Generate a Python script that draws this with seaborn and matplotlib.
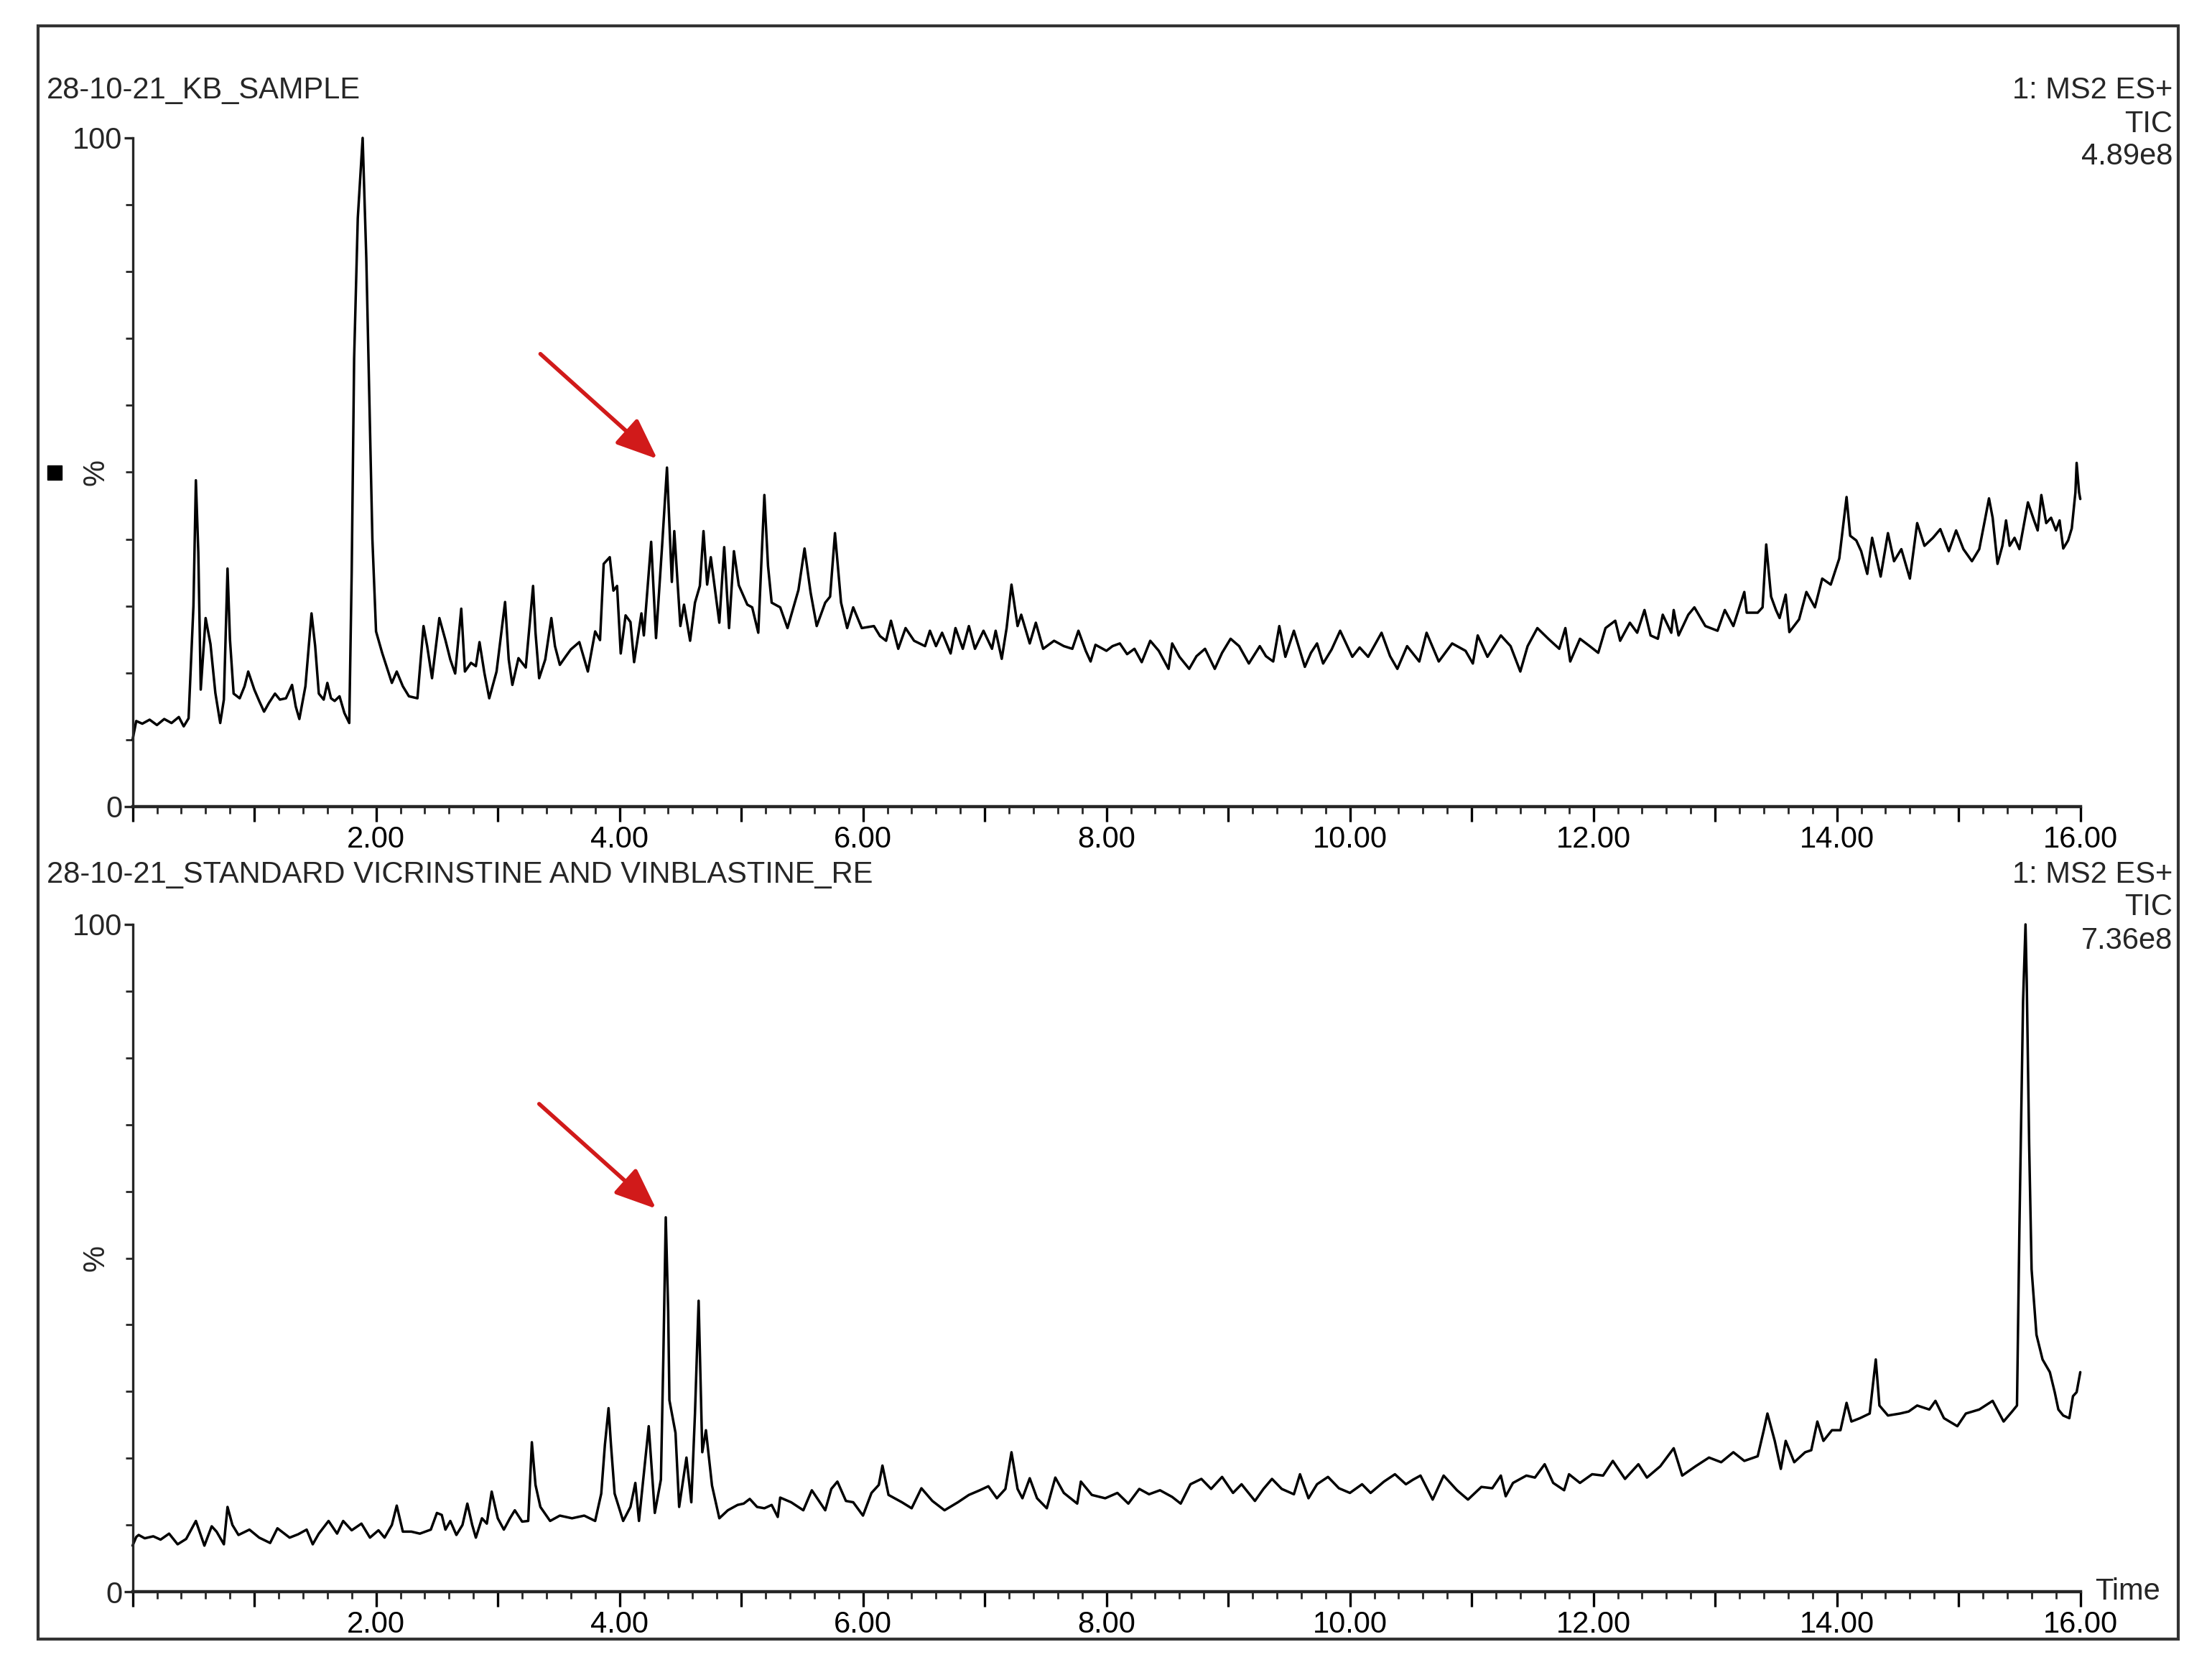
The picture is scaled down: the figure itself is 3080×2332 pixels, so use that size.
import numpy as np
import pandas as pd
import matplotlib
matplotlib.use("Agg")
import matplotlib.pyplot as plt
from matplotlib.ticker import MultipleLocator, FixedLocator, FuncFormatter
from matplotlib.patches import Rectangle
import seaborn as sns

# TIC traces (time in min, relative intensity in %)
sample_time = [
    0.00, 0.03, 0.08, 0.14, 0.20, 0.26, 0.32, 0.38, 0.42, 0.46,
    0.50, 0.52, 0.54, 0.56, 0.60, 0.64, 0.68, 0.72, 0.75, 0.78,
    0.80, 0.83, 0.88, 0.92, 0.95, 1.00, 1.04, 1.08, 1.12, 1.17,
    1.21, 1.26, 1.31, 1.34, 1.37, 1.42, 1.47, 1.50, 1.53, 1.57,
    1.60, 1.63, 1.66, 1.70, 1.74, 1.78, 1.80, 1.82, 1.85, 1.89,
    1.92, 1.95, 1.97, 2.00, 2.05, 2.10, 2.13, 2.17, 2.22, 2.27,
    2.34, 2.39, 2.42, 2.46, 2.52, 2.57, 2.61, 2.65, 2.70, 2.73,
    2.78, 2.82, 2.85, 2.89, 2.93, 2.99, 3.06, 3.09, 3.12, 3.17,
    3.23, 3.29, 3.31, 3.34, 3.39, 3.44, 3.47, 3.51, 3.56, 3.60,
    3.67, 3.74, 3.80, 3.84, 3.87, 3.92, 3.95, 3.98, 4.01, 4.05,
    4.09, 4.12, 4.18, 4.20, 4.26, 4.30, 4.35, 4.39, 4.43, 4.45,
    4.50, 4.53, 4.58, 4.62, 4.66, 4.69, 4.72, 4.75, 4.82, 4.86,
    4.90, 4.94, 4.98, 5.05, 5.09, 5.14, 5.19, 5.22, 5.25, 5.32,
    5.38, 5.47, 5.52, 5.57, 5.62, 5.69, 5.73, 5.77, 5.82, 5.87,
    5.92, 5.99, 6.09, 6.14, 6.19, 6.23, 6.29, 6.35, 6.42, 6.51,
    6.55, 6.60, 6.65, 6.72, 6.76, 6.82, 6.87, 6.92, 6.99, 7.06,
    7.09, 7.14, 7.18, 7.22, 7.27, 7.30, 7.37, 7.42, 7.48, 7.57,
    7.65, 7.72, 7.77, 7.83, 7.87, 7.91, 8.00, 8.05, 8.11, 8.17,
    8.23, 8.29, 8.36, 8.43, 8.51, 8.54, 8.60, 8.68, 8.74, 8.81,
    8.89, 8.95, 9.02, 9.09, 9.17, 9.26, 9.31, 9.37, 9.42, 9.47,
    9.54, 9.63, 9.68, 9.73, 9.78, 9.85, 9.92, 10.02, 10.08, 10.15,
    10.26, 10.33, 10.39, 10.47, 10.57, 10.63, 10.73, 10.84, 10.95, 11.01,
    11.05, 11.13, 11.24, 11.32, 11.40, 11.46, 11.54, 11.63, 11.72, 11.77,
    11.81, 11.89, 11.97, 12.04, 12.10, 12.18, 12.22, 12.30, 12.36, 12.42,
    12.47, 12.53, 12.57, 12.64, 12.66, 12.70, 12.78, 12.83, 12.92, 13.02,
    13.08, 13.15, 13.24, 13.26, 13.35, 13.39, 13.42, 13.46, 13.50, 13.53,
    13.58, 13.61, 13.69, 13.75, 13.82, 13.88, 13.95, 14.02, 14.08, 14.11,
    14.16, 14.20, 14.25, 14.29, 14.36, 14.42, 14.47, 14.53, 14.60, 14.66,
    14.72, 14.79, 14.85, 14.92, 14.98, 15.04, 15.11, 15.17, 15.22, 15.25,
    15.28, 15.32, 15.36, 15.39, 15.42, 15.46, 15.50, 15.57, 15.62, 15.65,
    15.68, 15.72, 15.76, 15.80, 15.83, 15.86, 15.90, 15.93, 15.96, 15.97,
    15.99, 16.00,
]
sample_pct = [
    10.0, 12.8, 12.4, 13.0, 12.2, 13.1, 12.5, 13.4, 12.0, 13.2,
    30.0, 48.8, 38.0, 17.5, 28.2, 24.3, 17.0, 12.5, 16.0, 35.6,
    25.0, 16.9, 16.2, 18.0, 20.2, 17.5, 15.8, 14.2, 15.5, 16.9,
    16.0, 16.2, 18.2, 15.0, 13.1, 18.0, 28.9, 24.0, 16.9, 16.0,
    18.5, 16.2, 15.8, 16.5, 14.0, 12.5, 35.0, 67.0, 88.0, 100.0,
    82.0, 56.5, 40.0, 26.2, 23.0, 20.2, 18.5, 20.2, 18.0, 16.5,
    16.2, 27.0, 24.0, 19.2, 28.2, 24.9, 22.0, 19.9, 29.6, 20.2,
    21.5, 21.0, 24.6, 20.0, 16.2, 20.2, 30.6, 22.0, 18.2, 22.2,
    20.8, 33.0, 26.0, 19.2, 22.0, 28.2, 24.0, 21.2, 22.5, 23.5,
    24.6, 20.2, 26.2, 24.9, 36.3, 37.3, 32.3, 33.0, 22.9, 28.6,
    27.6, 21.6, 28.9, 25.6, 39.6, 25.2, 39.0, 50.7, 33.6, 41.2,
    27.0, 30.2, 24.8, 30.5, 33.0, 41.2, 33.2, 37.3, 27.5, 38.8,
    26.7, 38.2, 33.1, 30.2, 29.8, 26.0, 46.6, 36.0, 30.5, 29.8,
    26.7, 32.4, 38.6, 32.0, 27.0, 30.5, 31.4, 40.9, 30.5, 26.7,
    29.8, 26.7, 27.0, 25.5, 24.8, 27.8, 23.6, 26.7, 24.8, 24.0,
    26.3, 24.0, 26.0, 22.9, 26.7, 23.6, 27.0, 23.6, 26.3, 23.6,
    26.3, 22.1, 26.7, 33.2, 27.0, 28.7, 24.4, 27.5, 23.6, 24.8,
    24.0, 23.6, 26.3, 23.3, 21.7, 24.2, 23.3, 24.0, 24.4, 22.8,
    23.6, 21.6, 24.8, 23.3, 20.6, 24.4, 22.4, 20.6, 22.5, 23.6,
    20.6, 23.0, 25.1, 24.0, 21.4, 24.0, 22.5, 21.7, 27.0, 22.4,
    26.3, 20.9, 23.0, 24.4, 21.4, 23.5, 26.3, 22.4, 23.8, 22.4,
    26.0, 22.5, 20.6, 24.0, 21.7, 26.0, 21.7, 24.4, 23.3, 21.4,
    25.6, 22.4, 25.6, 24.0, 20.2, 24.0, 26.7, 25.1, 23.6, 26.7,
    21.7, 25.1, 24.0, 23.0, 26.7, 27.8, 24.8, 27.5, 26.0, 29.4,
    25.6, 25.1, 28.7, 26.0, 29.4, 25.6, 28.7, 29.8, 27.0, 26.3,
    29.4, 27.0, 32.1, 29.0, 29.0, 29.8, 39.2, 31.4, 29.4, 28.2,
    31.7, 26.1, 28.0, 32.1, 29.8, 34.1, 33.2, 37.1, 46.3, 40.5,
    39.8, 38.2, 34.8, 40.2, 34.4, 40.9, 36.7, 38.5, 34.1, 42.4,
    39.0, 40.2, 41.5, 38.2, 41.3, 38.5, 36.7, 38.5, 43.2, 46.1,
    43.2, 36.3, 39.0, 42.8, 39.0, 40.2, 38.5, 45.5, 42.8, 41.3,
    46.6, 42.4, 43.2, 41.3, 42.8, 38.6, 39.8, 41.6, 47.0, 51.4,
    47.0, 46.0,
]

standard_time = [
    0.00, 0.03, 0.05, 0.10, 0.17, 0.23, 0.30, 0.37, 0.44, 0.52,
    0.55, 0.59, 0.65, 0.69, 0.75, 0.78, 0.82, 0.87, 0.96, 1.04,
    1.13, 1.19, 1.29, 1.36, 1.43, 1.48, 1.53, 1.61, 1.68, 1.73,
    1.80, 1.88, 1.95, 2.02, 2.07, 2.13, 2.17, 2.22, 2.29, 2.36,
    2.45, 2.50, 2.54, 2.57, 2.61, 2.66, 2.71, 2.75, 2.79, 2.82,
    2.87, 2.91, 2.95, 3.00, 3.05, 3.10, 3.14, 3.20, 3.25, 3.28,
    3.31, 3.35, 3.43, 3.51, 3.61, 3.71, 3.80, 3.85, 3.88, 3.91,
    3.93, 3.96, 4.03, 4.09, 4.13, 4.16, 4.19, 4.24, 4.27, 4.29,
    4.34, 4.36, 4.38, 4.40, 4.41, 4.46, 4.49, 4.55, 4.59, 4.62,
    4.65, 4.68, 4.71, 4.76, 4.82, 4.89, 4.97, 5.02, 5.07, 5.13,
    5.19, 5.25, 5.30, 5.32, 5.41, 5.51, 5.58, 5.69, 5.74, 5.79,
    5.86, 5.92, 6.00, 6.07, 6.13, 6.16, 6.21, 6.32, 6.40, 6.48,
    6.57, 6.67, 6.78, 6.87, 6.96, 7.03, 7.10, 7.17, 7.22, 7.27,
    7.31, 7.37, 7.43, 7.51, 7.58, 7.65, 7.76, 7.79, 7.88, 7.99,
    8.09, 8.18, 8.27, 8.35, 8.44, 8.54, 8.61, 8.69, 8.78, 8.86,
    8.95, 9.04, 9.11, 9.22, 9.29, 9.36, 9.44, 9.54, 9.59, 9.66,
    9.73, 9.82, 9.91, 10.00, 10.10, 10.17, 10.28, 10.37, 10.46, 10.52,
    10.58, 10.68, 10.77, 10.88, 10.97, 11.08, 11.17, 11.24, 11.28, 11.34,
    11.45, 11.52, 11.60, 11.67, 11.76, 11.80, 11.89, 11.99, 12.08, 12.16,
    12.26, 12.37, 12.44, 12.55, 12.66, 12.73, 12.84, 12.95, 13.05, 13.15,
    13.24, 13.35, 13.40, 13.43, 13.49, 13.54, 13.58, 13.65, 13.74, 13.79,
    13.84, 13.89, 13.96, 14.03, 14.08, 14.12, 14.19, 14.27, 14.32, 14.35,
    14.42, 14.52, 14.59, 14.66, 14.76, 14.81, 14.88, 14.99, 15.06, 15.17,
    15.28, 15.37, 15.44, 15.48, 15.50, 15.53, 15.55, 15.56, 15.58, 15.60,
    15.64, 15.69, 15.75, 15.79, 15.82, 15.86, 15.91, 15.94, 15.97, 16.00,
]
standard_pct = [
    6.9, 8.2, 8.5, 8.0, 8.3, 7.8, 8.7, 7.1, 7.9, 10.6,
    9.0, 6.9, 9.8, 9.0, 7.1, 12.7, 10.0, 8.5, 9.3, 8.1,
    7.3, 9.5, 8.1, 8.6, 9.3, 7.1, 8.7, 10.6, 8.7, 10.6,
    9.2, 10.2, 8.1, 9.2, 8.1, 10.0, 12.9, 9.0, 9.0, 8.7,
    9.3, 11.8, 11.5, 9.3, 10.6, 8.5, 10.0, 13.2, 10.0, 8.1,
    11.0, 10.2, 15.0, 11.0, 9.3, 11.0, 12.2, 10.5, 10.6, 22.4,
    16.0, 12.7, 10.6, 11.4, 11.0, 11.4, 10.6, 14.7, 22.0, 27.5,
    22.0, 14.7, 10.6, 12.7, 16.3, 10.6, 15.9, 24.8, 17.0, 11.8,
    16.8, 35.0, 56.1, 42.0, 28.7, 23.8, 12.7, 20.1, 13.4, 26.7,
    43.6, 20.9, 24.2, 15.9, 11.0, 12.2, 13.0, 13.2, 13.9, 12.7,
    12.5, 13.0, 11.2, 14.1, 13.4, 12.2, 15.2, 12.2, 15.4, 16.5,
    13.6, 13.4, 11.4, 14.8, 16.0, 18.9, 14.5, 13.4, 12.5, 15.5,
    13.6, 12.2, 13.4, 14.5, 15.2, 15.8, 14.0, 15.4, 20.9, 15.4,
    14.0, 17.0, 14.0, 12.5, 17.1, 14.8, 13.2, 16.5, 14.5, 14.0,
    14.8, 13.2, 15.4, 14.6, 15.2, 14.2, 13.2, 16.1, 16.9, 15.4,
    17.2, 14.8, 16.1, 13.6, 15.4, 16.9, 15.4, 14.6, 17.6, 14.0,
    16.1, 17.2, 15.5, 14.8, 16.1, 14.8, 16.5, 17.6, 16.1, 16.8,
    17.4, 13.8, 17.4, 15.2, 13.8, 15.7, 15.5, 17.4, 14.3, 16.3,
    17.4, 17.1, 19.1, 16.3, 15.2, 17.6, 16.3, 17.6, 17.4, 19.6,
    16.9, 19.1, 17.1, 18.8, 21.5, 17.4, 18.8, 20.1, 19.4, 20.9,
    19.6, 20.3, 24.2, 26.7, 22.6, 18.4, 22.6, 19.4, 20.9, 21.2,
    25.5, 22.6, 24.2, 24.2, 28.3, 25.5, 26.0, 26.7, 34.8, 27.9,
    26.4, 26.7, 27.0, 27.9, 27.3, 28.6, 26.0, 24.8, 26.7, 27.3,
    28.6, 25.5, 27.0, 27.9, 54.6, 88.5, 100.0, 91.6, 67.0, 48.3,
    38.5, 34.8, 32.9, 29.9, 27.3, 26.4, 26.0, 29.3, 29.9, 32.9,
]

assert len(sample_time) == len(sample_pct)
assert len(standard_time) == len(standard_pct)

titles = ["28-10-21_KB_SAMPLE", "28-10-21_STANDARD VICRINSTINE AND VINBLASTINE_RE"]
scan_info = ["1: MS2 ES+", "TIC"]
tic_max = ["4.89e8", "7.36e8"]
x_labels = ["2.00", "4.00", "6.00", "8.00", "10.00", "12.00", "14.00", "16.00"]
marked_peak_time = 4.38   # peak pointed at by the red arrows

sample = pd.DataFrame({"time": sample_time, "pct": sample_pct})
standard = pd.DataFrame({"time": standard_time, "pct": standard_pct})

sns.set_style("ticks")
plt.rcParams["font.family"] = ["Liberation Sans", "DejaVu Sans"]
plt.rcParams["axes.linewidth"] = 2.4

W, H = 3080, 2332
fig = plt.figure(figsize=(W / 100, H / 100), dpi=100)

# outer frame
fig.add_artist(Rectangle((53 / W, 1 - 2282 / H), (3033 - 53) / W, (2282 - 36) / H,
                         transform=fig.transFigure, fill=False, lw=3.0, ec="#333333"))

ax_left = 184.6 / W
ax_w = 2712 / W
ax1 = fig.add_axes([ax_left, 1 - 1123 / H, ax_w, 931 / H])
ax2 = fig.add_axes([ax_left, 1 - 2216 / H, ax_w, 929 / H])

fs = 30
tick_fmt = FuncFormatter(lambda v, p: x_labels[int(round(v)) // 2 - 1]
                         if v > 0.5 and int(round(v)) % 2 == 0 else "")

for ax, df in [(ax1, sample), (ax2, standard)]:
    sns.lineplot(data=df, x="time", y="pct", ax=ax, color="black", lw=2.5,
                 estimator=None, sort=False, clip_on=False)
    ax.set_xlim(0, 16)
    ax.set_ylim(0, 100)
    sns.despine(ax=ax)
    ax.spines["bottom"].set_linewidth(3.2)
    ax.set_xlabel("")
    ax.set_ylabel("%", fontsize=fs, rotation=90)
    ax.yaxis.set_label_coords(-0.0116, 0.5)

    ax.xaxis.set_major_locator(MultipleLocator(1))
    ax.xaxis.set_minor_locator(MultipleLocator(0.2))
    ax.xaxis.set_major_formatter(tick_fmt)
    ax.tick_params(axis="x", which="major", length=15, width=2.4, direction="out",
                   labelsize=fs, pad=4, colors="black")
    ax.tick_params(axis="x", which="minor", length=7, width=2.0, direction="out")

    ax.yaxis.set_major_locator(FixedLocator([0, 100]))
    ax.yaxis.set_minor_locator(MultipleLocator(10))
    ax.set_yticklabels(["0", "100"])
    ax.tick_params(axis="y", which="major", length=9, width=2.4, direction="out",
                   labelsize=fs, pad=1)
    ax.tick_params(axis="y", which="minor", length=7, width=2.0, direction="out")

    # red arrow pointing at the marked peak
    near = df[(df["time"] > marked_peak_time - 0.05) & (df["time"] < marked_peak_time + 0.05)]
    peak = near.loc[near["pct"].idxmax()]
    ax.annotate("", xy=(peak["time"] - 0.08, peak["pct"] + 1.3),
                xytext=(peak["time"] - 1.04, peak["pct"] + 17),
                arrowprops=dict(arrowstyle="-|>,head_length=1.1,head_width=0.45",
                                mutation_scale=32, color="#d11a1a", lw=4.0,
                                shrinkA=0, shrinkB=0))

# header texts
right_x = 3025 / W
for title, tmax, ys in [(titles[0], tic_max[0], (126, 173, 218)),
                        (titles[1], tic_max[1], (1218, 1263, 1310))]:
    fig.text(65 / W, 1 - ys[0] / H, title, fontsize=fs, ha="left", va="center")
    fig.text(right_x, 1 - ys[0] / H, scan_info[0], fontsize=fs, ha="right", va="center")
    fig.text(right_x, 1 - ys[1] / H, scan_info[1], fontsize=fs, ha="right", va="center")
    fig.text(right_x, 1 - ys[2] / H, tmax, fontsize=fs, ha="right", va="center")

# small black marker left of the top panel
fig.add_artist(Rectangle((66 / W, 1 - 668 / H), 20 / W, 20 / H,
                         transform=fig.transFigure, color="black"))

ax2.text(1.0075, 0.0, "Time", transform=ax2.transAxes, fontsize=fs,
         ha="left", va="center")

fig.savefig("out.png", dpi=100, facecolor="white")
